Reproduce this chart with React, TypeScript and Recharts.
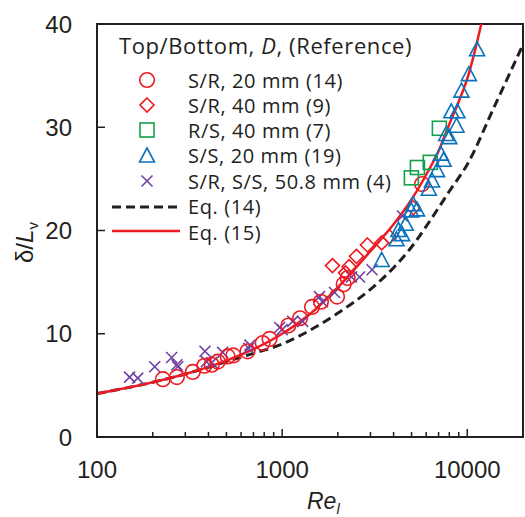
import React from 'react';
import { ComposedChart, XAxis, YAxis, Scatter, Line, ReferenceArea, Customized } from 'recharts';

// [Re_l, delta/L_v]
const srRough20 = [
  [227, 5.6], [270, 5.8], [329, 6.3], [380, 6.9], [417, 7.0], [449, 7.3], [508, 7.8],
  [545, 7.9], [650, 8.3], [785, 9.1], [855, 9.5], [1080, 10.8], [1250, 11.5], [1450, 12.6],
  [1620, 13.1], [1980, 13.6], [2150, 14.8], [2260, 15.4], [5700, 24.5],
];
const srRough40 = [
  [1870, 16.6], [2200, 15.9], [2300, 16.5], [2520, 17.5], [2890, 18.6], [3450, 18.8],
  [3800, 19.4], [5100, 22.2],
];
const rsRough40 = [[4990, 25.1], [5380, 26.1], [6310, 26.6], [7070, 29.9]];
const ssSmooth20 = [
  [3450, 17.1], [4150, 19.1], [4250, 20.0], [4450, 19.6], [4650, 20.6], [4980, 21.9],
  [5100, 22.5], [5350, 22.0], [6200, 24.0], [6450, 24.8], [6870, 25.8], [7200, 27.4],
  [7450, 26.8], [7700, 29.3], [8000, 29.0], [8750, 30.1], [8200, 31.5], [8850, 31.5],
  [9300, 33.5], [10200, 35.1], [11300, 37.5],
];
const mixed508 = [
  [150, 5.8], [166, 5.7], [205, 6.8], [253, 7.7], [270, 7.0], [273, 6.8], [383, 8.3],
  [390, 7.3], [417, 7.2], [477, 8.2], [660, 8.6], [670, 8.9], [1000, 10.4], [970, 10.6],
  [1140, 11.2], [1290, 11.2], [1590, 13.6], [1650, 13.1], [1920, 14.0], [2370, 15.5],
  [2620, 15.5], [3060, 16.2], [4470, 21.4],
];
const eq14 = [
  [100, 4.2], [200, 5.3], [300, 6.1], [500, 7.3], [700, 8.1], [1000, 9.0], [1500, 10.6],
  [2000, 12.0], [3000, 14.3], [4000, 16.4], [5000, 18.4], [6000, 20.4], [7000, 22.2],
  [8000, 23.8], [10000, 26.4], [14000, 32.0], [20000, 38.0],
];
const eq15 = [
  [100, 4.2], [200, 5.3], [300, 6.1], [500, 7.4], [700, 8.5], [1000, 10.0], [1500, 12.3],
  [2000, 14.5], [3000, 18.0], [4000, 20.6], [5000, 23.0], [6000, 25.4], [7000, 27.7],
  [8000, 30.3], [9000, 32.5], [10000, 34.7], [11000, 37.4], [11900, 40.0],
];

const xTicks = [100, 200, 300, 400, 500, 600, 700, 800, 900, 1000, 2000, 3000, 4000, 5000, 6000, 7000, 8000, 9000, 10000];
const xMajor = [100, 1000, 10000];
const yTicks = [0, 10, 20, 30, 40];

const legendTitle = 'Top/Bottom, ';
const labels = {
  c: 'S/R, 20 mm (14)',
  d: 'S/R, 40 mm (9)',
  s: 'R/S, 40 mm (7)',
  t: 'S/S, 20 mm (19)',
  x: 'S/R, S/S, 50.8 mm (4)',
  e14: 'Eq. (14)',
  e15: 'Eq. (15)',
};

const RED = '#ed1c24';
const GREEN = '#13a04a';
const BLUE = '#0a72bd';
const PURPLE = '#7141a0';
const DARK = '#231f20';
const AXIS_FONT = '"Liberation Sans", Arial, sans-serif';
const LEG_FONT = '"Open Sans", "Noto Sans", sans-serif';

const toPts = (a: number[][]) => a.map(([x, y]) => ({ x, y }));

const CircleM = (p: any) => <circle cx={p.cx} cy={p.cy} r={7.3} fill="none" stroke={RED} strokeWidth={1.6} />;
const DiamondM = (p: any) => (
  <polygon points={`${p.cx},${p.cy - 7} ${p.cx + 7},${p.cy} ${p.cx},${p.cy + 7} ${p.cx - 7},${p.cy}`} fill="none" stroke={RED} strokeWidth={1.6} />
);
const SquareM = (p: any) => <rect x={p.cx - 7} y={p.cy - 7} width={14} height={14} fill="none" stroke={GREEN} strokeWidth={1.6} />;
const TriM = (p: any) => (
  <polygon points={`${p.cx},${p.cy - 8} ${p.cx + 7.5},${p.cy + 6} ${p.cx - 7.5},${p.cy + 6}`} fill="none" stroke={BLUE} strokeWidth={1.6} />
);
const CrossM = (p: any) => (
  <g stroke={PURPLE} strokeWidth={1.6}>
    <line x1={p.cx - 5.5} y1={p.cy - 5.5} x2={p.cx + 5.5} y2={p.cy + 5.5} />
    <line x1={p.cx - 5.5} y1={p.cy + 5.5} x2={p.cx + 5.5} y2={p.cy - 5.5} />
  </g>
);

const XTick = (props: any) => {
  const { x, y, payload } = props;
  const v = payload.value;
  const major = xMajor.includes(v);
  const axisY = y - 10;
  return (
    <g>
      <line x1={x} x2={x} y1={axisY} y2={axisY - (major ? 8 : 5)} stroke={DARK} strokeWidth={1.5} />
      {major && (
        <text x={x} y={axisY + 41} textAnchor="middle" fontSize={24} fontFamily={AXIS_FONT} fill={DARK}>
          {v}
        </text>
      )}
    </g>
  );
};

const YTick = (props: any) => {
  const { x, y, payload } = props;
  const axisX = x + 10;
  return (
    <g>
      <line x1={axisX} x2={axisX + 8} y1={y} y2={y} stroke={DARK} strokeWidth={1.5} />
      <text x={axisX - 25} y={y + 8.5} textAnchor="end" fontSize={24} fontFamily={AXIS_FONT} fill={DARK}>
        {payload.value}
      </text>
    </g>
  );
};

const LegendBox = () => {
  const mx = 147;
  const tx = 188;
  const rows: [number, React.ReactNode, string][] = [
    [80, <CircleM cx={mx} cy={80} />, labels.c],
    [105, <DiamondM cx={mx} cy={105} />, labels.d],
    [130, <SquareM cx={mx} cy={130} />, labels.s],
    [155, <TriM cx={mx} cy={156} />, labels.t],
    [181, <CrossM cx={mx} cy={181} />, labels.x],
    [206, <line x1={112} x2={180} y1={207} y2={207} stroke={DARK} strokeWidth={3} strokeDasharray="9 5" />, labels.e14],
    [232, <line x1={112} x2={180} y1={231} y2={231} stroke={RED} strokeWidth={2.5} />, labels.e15],
  ];
  return (
    <g fontFamily={LEG_FONT} fill={DARK}>
      <text x={119} y={54} fontSize={22} letterSpacing={0.6}>
        {legendTitle}
        <tspan fontStyle="italic">D</tspan>
        {', (Reference)'}
      </text>
      {rows.map(([cy, sym, lab], i) => (
        <g key={i}>
          {sym}
          <text x={tx} y={cy + 7.5} fontSize={20} letterSpacing={0.6}>{lab}</text>
        </g>
      ))}
    </g>
  );
};

const XLabel = (props: any) => {
  const vb = props.viewBox || { x: 97, y: 437 };
  return (
    <text x={vb.x + 210} y={vb.y + 72} fontSize={23} fontFamily={AXIS_FONT} fill={DARK} fontStyle="italic">
      Re<tspan fontSize={15} dy={5}>l</tspan>
    </text>
  );
};

const YLabel = () => (
  <text x={0} y={0} transform="translate(33,263) rotate(-90)" fontSize={24} fontFamily={AXIS_FONT} fill={DARK}>
    δ/<tspan fontStyle="italic">L</tspan>
    <tspan fontSize={15} dy={5}>v</tspan>
  </text>
);

export default function App() {
  return (
    <div style={{ position: 'absolute', left: 0, top: 0, background: '#fff' }}>
      <ComposedChart width={525} height={517} margin={{ top: 24, right: 2, bottom: 30, left: 37 }}>
        <XAxis
          type="number"
          dataKey="x"
          scale="log"
          domain={[100, 20000]}
          allowDataOverflow
          ticks={xTicks}
          interval={0}
          tick={<XTick />}
          tickLine={false}
          tickSize={0}
          tickMargin={10}
          height={50}
          axisLine={{ stroke: DARK, strokeWidth: 2 }}
          label={<XLabel />}
        />
        <YAxis
          type="number"
          dataKey="y"
          domain={[0, 40]}
          allowDataOverflow
          ticks={yTicks}
          interval={0}
          tick={<YTick />}
          tickLine={false}
          tickSize={0}
          tickMargin={10}
          width={60}
          axisLine={{ stroke: DARK, strokeWidth: 2 }}
        />
        <ReferenceArea x1={100} x2={20000} y1={0} y2={40} fill="none" fillOpacity={0} stroke={DARK} strokeWidth={2} ifOverflow="visible" />
        <Scatter data={toPts(mixed508)} dataKey="y" shape={CrossM} isAnimationActive={false} />
        <Scatter data={toPts(srRough20)} dataKey="y" shape={CircleM} isAnimationActive={false} />
        <Scatter data={toPts(srRough40)} dataKey="y" shape={DiamondM} isAnimationActive={false} />
        <Scatter data={toPts(rsRough40)} dataKey="y" shape={SquareM} isAnimationActive={false} />
        <Scatter data={toPts(ssSmooth20)} dataKey="y" shape={TriM} isAnimationActive={false} />
        <Line data={toPts(eq14)} dataKey="y" type="monotone" stroke={DARK} strokeWidth={3} strokeDasharray="9 5" dot={false} isAnimationActive={false} />
        <Line data={toPts(eq15)} dataKey="y" type="monotone" stroke={RED} strokeWidth={2.5} dot={false} isAnimationActive={false} />
        <Customized component={LegendBox} />
        <Customized component={YLabel} />
      </ComposedChart>
    </div>
  );
}
